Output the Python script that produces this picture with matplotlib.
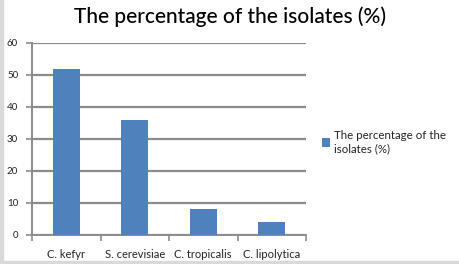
import matplotlib
matplotlib.use("Agg")
import matplotlib.pyplot as plt
from matplotlib.patches import Rectangle

categories = ["C. kefyr", "S. cerevisiae", "C. tropicalis", "C. lipolytica"]
values = [52, 36, 8, 4]
yticks = [0, 10, 20, 30, 40, 50, 60]
series_name = "The percentage of the\nisolates (%)"
title = "The percentage of the isolates (%)"

plt.rcParams['font.family'] = ['Lato', 'DejaVu Sans']

fig = plt.figure(figsize=(4.6, 2.64), dpi=100)
fig.patch.set_facecolor("white")
# light grey frame on left and bottom
fig.add_artist(Rectangle((0, 0), 3/460, 1, transform=fig.transFigure, color="#d9d9d9", zorder=0))
fig.add_artist(Rectangle((0, 0), 1, 3/264, transform=fig.transFigure, color="#d9d9d9", zorder=0))

ax = fig.add_axes([32/460, 1-235/264, 274/460, 192/264])
x = list(range(len(categories)))
bars = ax.bar(x, values, width=0.39, color="#4f81bd", zorder=3, label=series_name)
ax.set_xlim(-0.5, len(categories) - 0.5)
ax.set_ylim(0, 60)
ax.set_yticks(yticks)
ax.set_yticklabels([str(t) for t in yticks], fontsize=7, color="#222222")
ax.yaxis.grid(True, color="#8c8c8c", linewidth=1.6, zorder=0)
ax.set_axisbelow(True)
for s in ["top", "right"]:
    ax.spines[s].set_visible(False)
ax.spines["left"].set_color("#8c8c8c")
ax.spines["left"].set_linewidth(1.4)
ax.spines["bottom"].set_color("#8c8c8c")
ax.spines["bottom"].set_linewidth(1.4)
ax.tick_params(axis="y", length=4, color="#8c8c8c", width=1.2, pad=6)
# category boundary ticks, labels centered
ax.set_xticks([i - 0.5 for i in range(len(categories) + 1)])
ax.set_xticklabels([])
ax.set_xticks(x, minor=True)
ax.set_xticklabels(categories, minor=True, fontsize=8, color="#222222")
ax.tick_params(axis="x", which="major", length=4, color="#8c8c8c", width=1.2, direction="out")
ax.tick_params(axis="x", which="minor", length=0, pad=10)

fig.text(0.5, 1 - 17/264, title, ha="center", va="center", fontsize=15, color="#000000",
         fontweight="medium")

leg = fig.legend(handles=[bars], labels=[series_name], loc="center left",
                 bbox_to_anchor=(312/460, 1 - 142/264), frameon=False, fontsize=8.3,
                 handlelength=0.7, handleheight=0.7, handletextpad=0.3)
for t in leg.get_texts():
    t.set_color("#222222")

fig.savefig("out.png", dpi=100, facecolor="white")
